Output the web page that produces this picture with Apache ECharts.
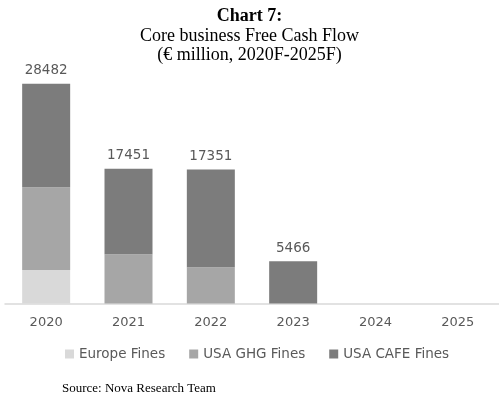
<!DOCTYPE html>
<html>
<head>
<meta charset="utf-8">
<script src="https://cdn.jsdelivr.net/npm/echarts@6/dist/echarts.min.js"></script>
<style>
html,body{margin:0;padding:0;background:#fff;}
#c{width:499px;height:394px;}
</style>
</head>
<body>
<div id="c"></div>
<script>
const categories = ['2020', '2021', '2022', '2023', '2024', '2025'];
const europeFines = [4342, null, null, null, null, null];
const usaGhgFines = [10718, 6376, 4692, null, null, null];
const usaCafeFines = [13422, 11075, 12659, 5466, null, null];
const totals = [28482, 17451, 17351, 5466, 0, 0];
const seriesNames = ['Europe Fines', 'USA GHG Fines', 'USA CAFE Fines'];

const chart = echarts.init(document.getElementById('c'), null, {renderer: 'canvas'});
const sans = '"DejaVu Sans", sans-serif';
const serif = '"Liberation Serif", "DejaVu Serif", serif';
chart.setOption({
  animation: false,
  backgroundColor: '#ffffff',
  title: [
    {text: 'Chart 7:', left: 'center', top: 2, textStyle: {fontFamily: serif, fontSize: 18, fontWeight: 'bold', color: '#000'}},
    {text: 'Core business Free Cash Flow', left: 'center', top: 22, textStyle: {fontFamily: serif, fontSize: 18, fontWeight: 'normal', color: '#000'}},
    {text: '(€ million, 2020F-2025F)', left: 'center', top: 41, textStyle: {fontFamily: serif, fontSize: 18, fontWeight: 'normal', color: '#000'}},
    {text: 'Source: Nova Research Team', left: 57, top: 377, textStyle: {fontFamily: serif, fontSize: 13, fontWeight: 'normal', color: '#000'}}
  ],
  legend: {
    data: seriesNames,
    top: 342,
    left: 60,
    itemWidth: 9,
    itemHeight: 9,
    itemGap: 24,
    icon: 'rect',
    textStyle: {fontFamily: sans, fontSize: 13.5, color: '#595959'}
  },
  grid: {left: 5, width: 497, top: 72, height: 231.5, containLabel: false},
  xAxis: {
    type: 'category',
    data: categories,
    axisLine: {lineStyle: {color: '#d9d9d9', width: 1.5}},
    axisTick: {show: false},
    axisLabel: {fontFamily: sans, fontSize: 13, color: '#595959', margin: 13}
  },
  yAxis: {
    type: 'value', min: 0, max: 30000,
    show: false,
    splitLine: {show: false}
  },
  series: [
    {name: seriesNames[0], type: 'bar', stack: 'fcf', data: europeFines, barWidth: 48, itemStyle: {color: '#d9d9d9'}},
    {name: seriesNames[1], type: 'bar', stack: 'fcf', data: usaGhgFines, barWidth: 48, itemStyle: {color: '#a6a6a6'}},
    {name: seriesNames[2], type: 'bar', stack: 'fcf', data: usaCafeFines, barWidth: 48, itemStyle: {color: '#7c7c7c'},
      label: {show: true, position: 'top', distance: 6, fontFamily: sans, fontSize: 13.5, color: '#595959',
        formatter: p => totals[p.dataIndex] ? String(totals[p.dataIndex]) : ''}}
  ]
});
</script>
</body>
</html>
